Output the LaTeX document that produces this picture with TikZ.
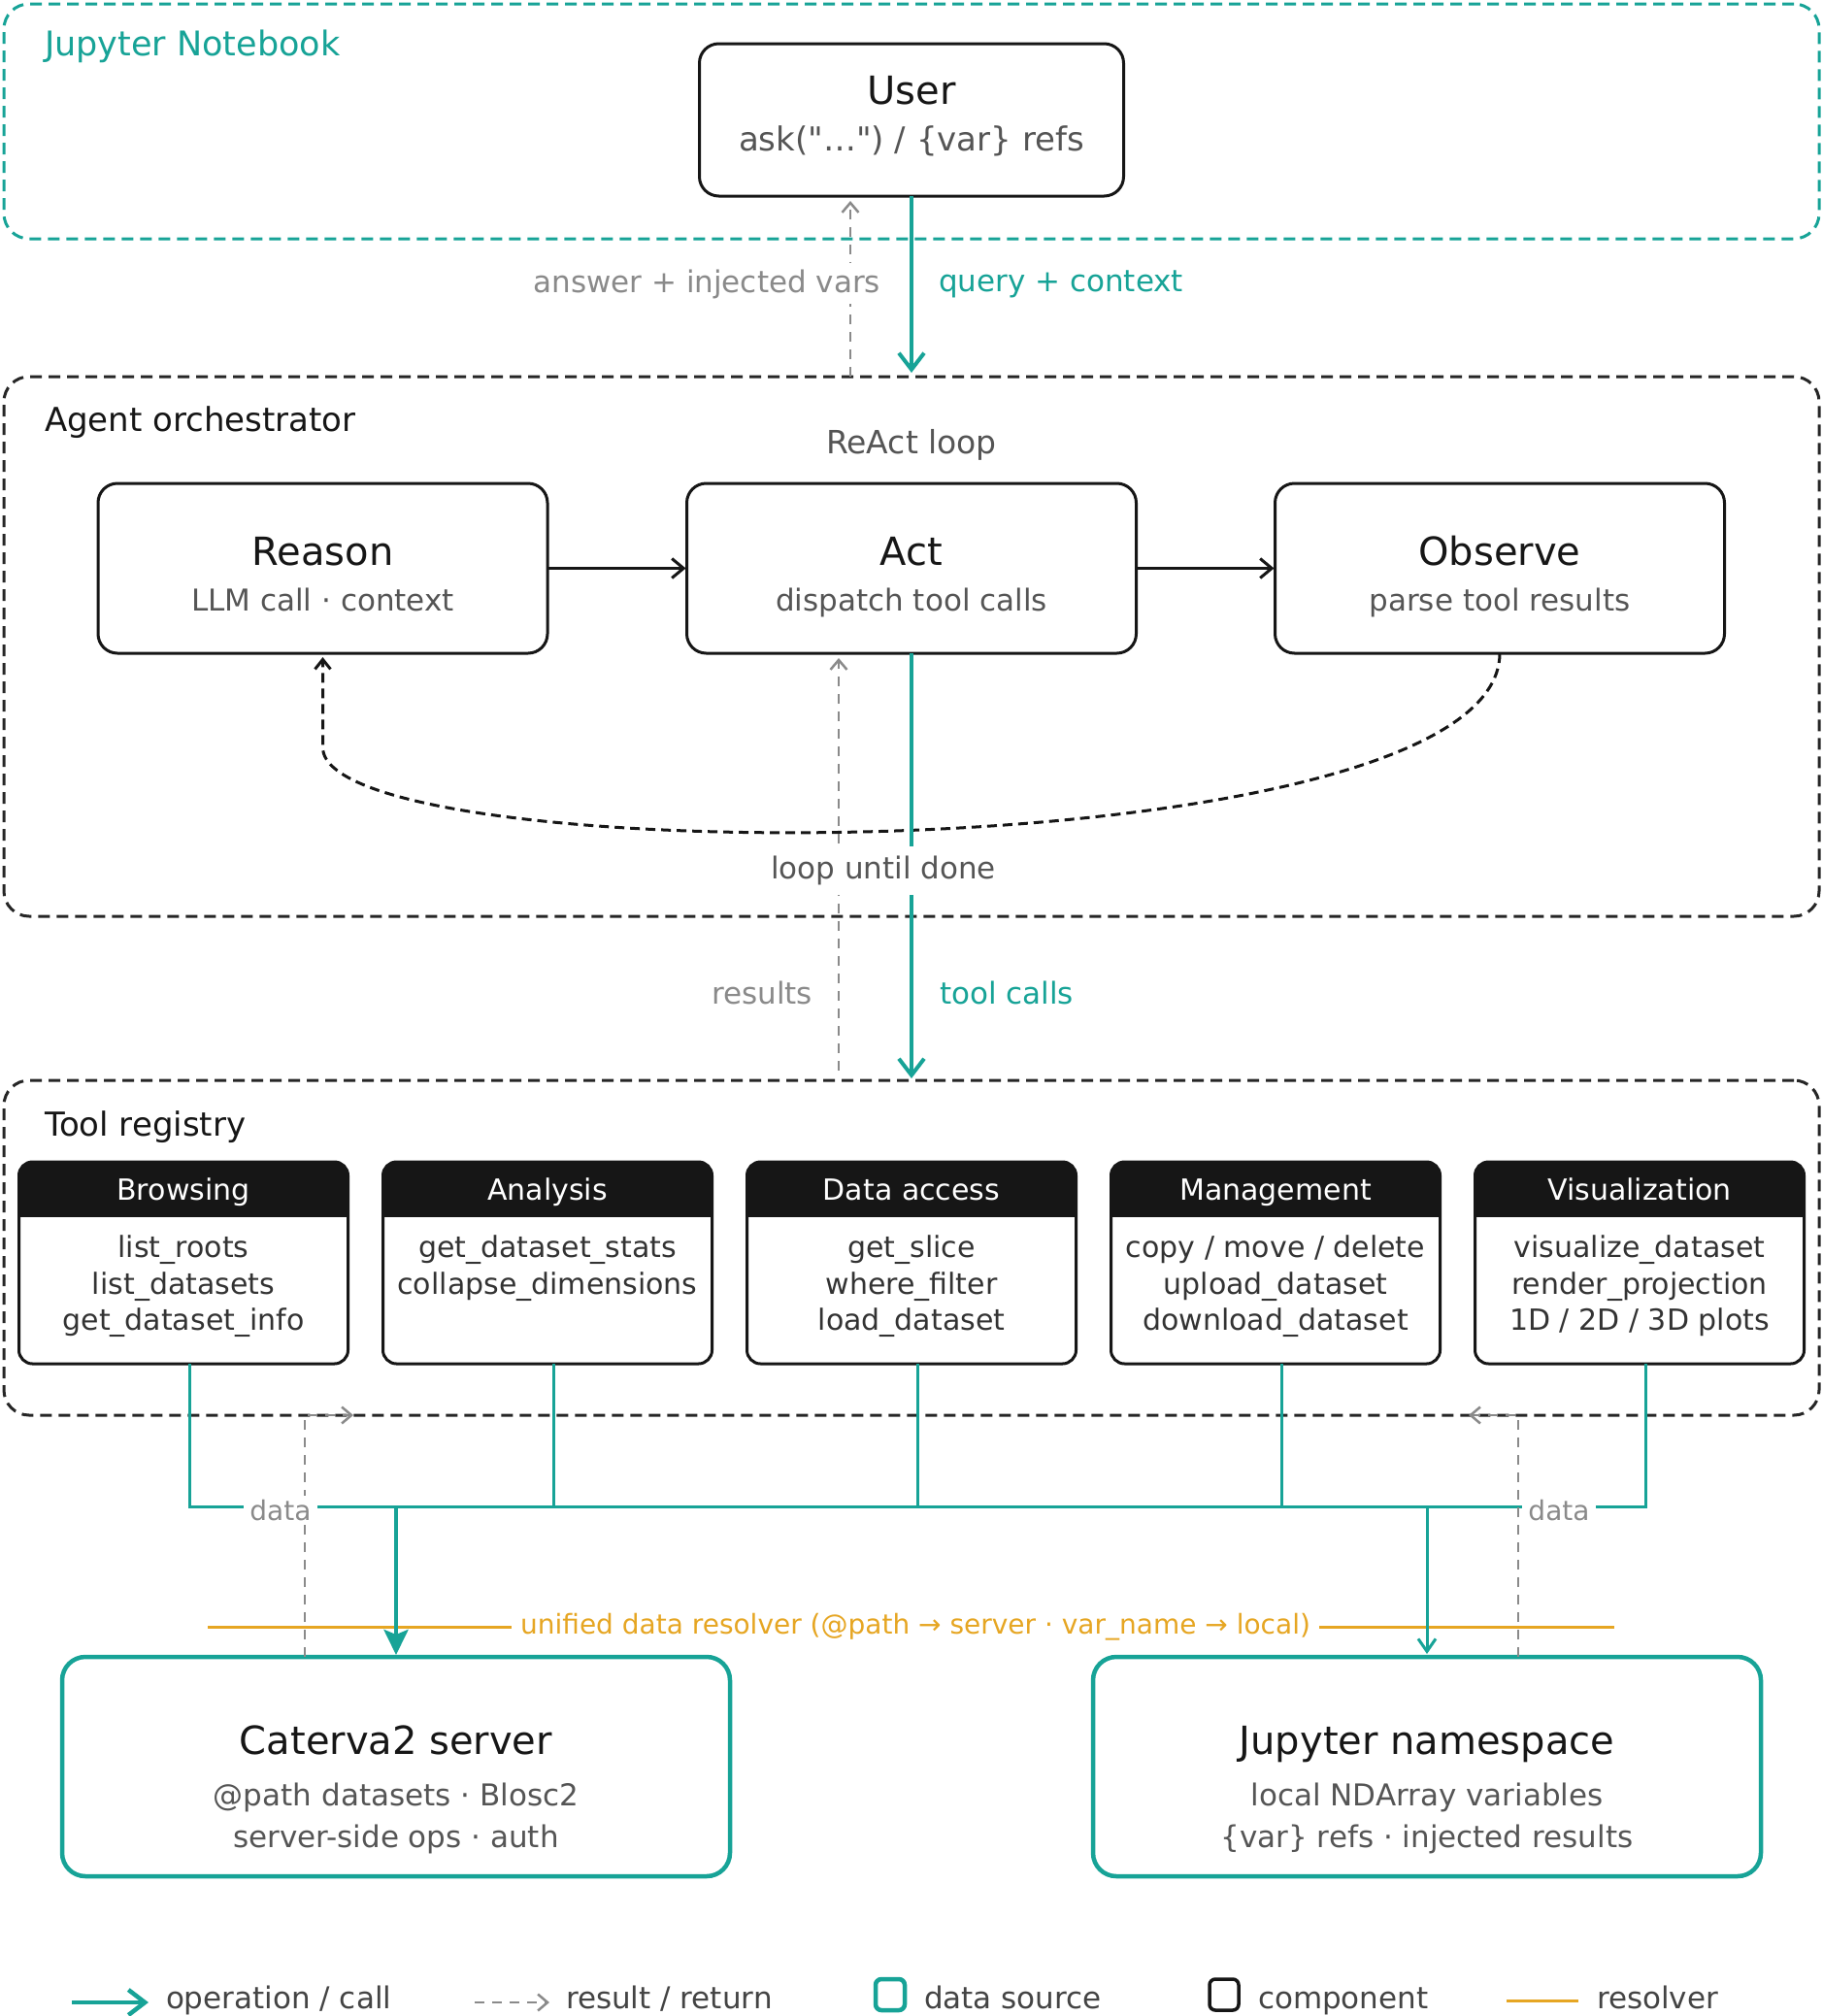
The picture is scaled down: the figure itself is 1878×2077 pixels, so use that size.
\documentclass[tikz,border=0pt]{standalone}
\usepackage{fontspec}
\setmainfont{DejaVu Sans}
\usetikzlibrary{arrows.meta}
\definecolor{teal1}{HTML}{17A397}
\definecolor{orng}{HTML}{E6A623}
\definecolor{ink}{HTML}{161616}
\definecolor{sub}{HTML}{555555}
\definecolor{muted}{HTML}{8A8A8A}
\definecolor{item}{HTML}{333333}
\definecolor{grp}{HTML}{262626}
\definecolor{legc}{HTML}{444444}
\newcommand\fsz[1]{\fontsize{#1pt}{#1pt}\selectfont}
\newcommand\sqt{\XeTeXglyph\XeTeXcharglyph"22\relax}
\newcommand\catbox[3]{%
  \node[catb] (#1) at (#2,1301) {};
  \begin{scope}
    \clip[rounded corners=14pt] (#1.north west) rectangle (#1.south east);
    \fill[ink] ({#2-175},1190) rectangle ({#2+175},1254);
  \end{scope}
  \draw[ink, line width=3pt, rounded corners=14pt] (#1.north west) rectangle (#1.south east);
  \node[hdr] (#1-h) at (#2,1236) {#3};
}
\begin{document}
\begin{tikzpicture}[x=1pt,y=-1pt,
  every node/.style={inner sep=0pt,outer sep=0pt},
  grpbox/.style={draw=#1, line width=3pt, dash pattern=on 12pt off 7pt, rounded corners=26pt, minimum width=1870pt},
  comp/.style={draw=ink, line width=3pt, rounded corners=20pt, fill=white},
  srcbox/.style={draw=teal1, line width=4.5pt, rounded corners=24pt, fill=white, minimum width=688pt, minimum height=226pt},
  ttl/.style={anchor=base, font=\fsz{40}, text=ink},
  subt/.style={anchor=base, font=\fsz{31}, text=sub},
  glbl/.style={anchor=base west, font=\fsz{34}},
  call/.style={draw=teal1, line width=4pt, -{Straight Barb[length=17pt,width=26pt]}},
  thincall/.style={draw=teal1, line width=3pt, -{Straight Barb[length=13pt,width=18pt]}},
  bigcall/.style={draw=teal1, line width=4.5pt, -{Stealth[length=26pt,width=25pt,inset=5pt]}},
  ret/.style={draw=muted, line width=2.5pt, dash pattern=on 10pt off 8pt, -{Straight Barb[length=10pt,width=17pt]}},
  flow/.style={draw=ink, line width=3pt, -{Straight Barb[length=12pt,width=20pt]}},
  loopdash/.style={draw=ink, line width=3pt, dash pattern=on 10pt off 6pt, -{Straight Barb[length=10pt,width=16pt]}},
  bus/.style={draw=teal1, line width=3pt},
  resline/.style={draw=orng, line width=3pt},
  catb/.style={fill=white, minimum width=339pt, minimum height=208pt},
  hdr/.style={anchor=base, font=\fsz{30}, text=white},
  itm/.style={anchor=base, font=\fsz{30}, text=item},
  datalbl/.style={fill=white, text=muted, font=\fsz{28}, inner xsep=6pt, inner ysep=4pt},
  legtxt/.style={anchor=base west, font=\fsz{31}, text=legc}
]
\useasboundingbox (0,0) rectangle (1878,2077);
\fill[white] (0,0) rectangle (1878,2077);

% ---------- groups ----------
\node[grpbox=teal1, minimum height=242pt] (jup) at (939,125) {};
\node[glbl, text=teal1, font=\fsz{35}] (juplbl) at (46,57) {Jupyter Notebook};
\node[grpbox=grp, minimum height=556pt] (agent) at (939,666) {};
\node[glbl, text=ink] (agentlbl) at (46,444) {Agent orchestrator};
\node[grpbox=grp, minimum height=345pt] (toolreg) at (939,1285.5) {};
\node[glbl, text=ink] (toollbl) at (46,1170) {Tool registry};

% ---------- user ----------
\node[comp, minimum width=437pt, minimum height=157pt] (user) at (939,123.5) {};
\node[ttl] (user-t) at (939,107) {User};
\node[anchor=base, font=\fsz{34}, text=sub] (user-s) at (939,155) {ask(\sqt…\sqt) / \{var\} refs};

\coordinate (ansX) at (876,0);
\draw[call, shorten >=4pt] (user.south) -- (agent.north);
\draw[ret, shorten >=5pt] (agent.north -| ansX) -- (user.south -| ansX);
\node[anchor=base east, font=\fsz{31}, text=muted, fill=white, inner xsep=2pt, inner ysep=6pt] (anslbl) at (909,301) {answer + injected vars};
\node[anchor=base west, font=\fsz{31}, text=teal1] (qlbl) at (967,300) {query + context};

% ---------- ReAct ----------
\node[anchor=base, font=\fsz{33}, text=sub] (react) at (939,467) {ReAct loop};
\node[comp, minimum width=463pt, minimum height=175pt] (reason) at (332.5,585.5) {};
\node[ttl] at (332.5,582) {Reason};
\node[subt] at (332.5,629) {LLM call · context};
\node[comp, minimum width=463pt, minimum height=175pt] (act) at (939,585.5) {};
\node[ttl] at (939,582) {Act};
\node[subt] at (939,629) {dispatch tool calls};
\node[comp, minimum width=463pt, minimum height=175pt] (observe) at (1545,585.5) {};
\node[ttl] at (1545,582) {Observe};
\node[subt] at (1545,629) {parse tool results};

\draw[flow, shorten >=1pt] (reason.east) -- (act.west);
\draw[flow, shorten >=1pt] (act.east) -- (observe.west);
\draw[loopdash, shorten >=4pt] (observe.south) .. controls (1545,900) and (332.5,900) .. (332.5,770) -- (reason.south);

\coordinate (resX) at (864,0);
\draw[ret, shorten <=10pt, shorten >=5pt] (toolreg.north -| resX) -- (act.south -| resX);
\draw[call, shorten >=2pt] (act.south) -- (toolreg.north);
\node[fill=white, font=\fsz{31}, text=sub, inner xsep=4pt, inner ysep=10pt] (loop) at (910,897) {loop until done};
\node[anchor=base east, font=\fsz{31}, text=muted] (reslbl) at (837,1034) {results};
\node[anchor=base west, font=\fsz{31}, text=teal1] (tclbl) at (968,1034) {tool calls};

% ---------- tool categories ----------
\catbox{browsing}{189}{Browsing}
\node[itm] at (189,1295) {list\_roots};
\node[itm] at (189,1333) {list\_datasets};
\node[itm] at (189,1370) {get\_dataset\_info};
\catbox{analysis}{564}{Analysis}
\node[itm] at (564,1295) {get\_dataset\_stats};
\node[itm] at (564,1333) {collapse\_dimensions};
\catbox{dataacc}{939}{Data access}
\node[itm] at (939,1295) {get\_slice};
\node[itm] at (939,1333) {where\_filter};
\node[itm] at (939,1370) {load\_dataset};
\catbox{mgmt}{1314}{Management}
\node[itm] at (1314,1295) {copy / move / delete};
\node[itm] at (1314,1333) {upload\_dataset};
\node[itm] at (1314,1370) {download\_dataset};
\catbox{visual}{1689}{Visualization}
\node[itm] at (1689,1295) {visualize\_dataset};
\node[itm] at (1689,1333) {render\_projection};
\node[itm] at (1689,1370) {1D / 2D / 3D plots};

% ---------- data sources ----------
\node[srcbox] (caterva) at (408,1820) {};
\node[ttl] at (408,1807) {Caterva2 server};
\node[subt] at (408,1860) {@path datasets · Blosc2};
\node[subt] at (408,1903) {server-side ops · auth};
\node[srcbox] (nspace) at (1470,1820) {};
\node[ttl] at (1470,1807) {Jupyter namespace};
\node[subt] at (1470,1860) {local NDArray variables};
\node[subt] at (1470,1903) {\{var\} refs · injected results};

% resolver line
\coordinate (oL) at (214,1676);
\coordinate (oR) at (1663,1676);
\draw[resline] (oL) -- (oR);
\node[fill=white, font=\fsz{28}, text=orng, inner xsep=9pt, inner ysep=3pt] (resolver) at (943,1676) {unified data resolver (@path → server · var\_name → local)};

% bus
\coordinate (b1) at (195,1552);
\coordinate (b2) at (570,1552);
\coordinate (b3) at (945,1552);
\coordinate (b4) at (1320,1552);
\coordinate (b5) at (1695,1552);
\coordinate (bC) at (408,1552);
\coordinate (bN) at (1470,1552);
\draw[bus] ([xshift=6pt]browsing.south) -- (b1) -- (b5) -- ([xshift=6pt]visual.south);
\draw[bus] ([xshift=6pt]analysis.south) -- (b2);
\draw[bus] ([xshift=6pt]dataacc.south) -- (b3);
\draw[bus] ([xshift=6pt]mgmt.south) -- (b4);
\draw[bigcall, shorten >=2pt] (bC) -- (caterva.north);
\draw[thincall, shorten >=3pt] (bN) -- (nspace.north);

% returns
\coordinate (rL) at (314,1458);
\coordinate (rLt) at (364,1458);
\coordinate (rR) at (1564,1458);
\coordinate (rRt) at (1513,1458);
\draw[ret] (caterva.north -| rL) -- (rL) -- (rLt);
\draw[ret] (nspace.north -| rR) -- (rR) -- (rRt);
\node[datalbl] (dataL) at (289,1556) {data};
\node[datalbl] (dataR) at (1606,1556) {data};

% ---------- legend ----------
\coordinate (lg1a) at (74,2063);
\coordinate (lg1b) at (153,2063);
\draw[call, line width=4.5pt] (lg1a) -- (lg1b);
\node[legtxt] (lgt1) at (171,2069) {operation / call};
\coordinate (lg2a) at (489,2063);
\coordinate (lg2b) at (566,2063);
\draw[ret] (lg2a) -- (lg2b);
\node[legtxt] (lgt2) at (583,2069) {result / return};
\node[draw=teal1, line width=4.5pt, rounded corners=6pt, minimum width=30pt, minimum height=32pt] (lgsrc) at (917,2055) {};
\node[legtxt] (lgt3) at (952,2069) {data source};
\node[draw=ink, line width=3.5pt, rounded corners=6pt, minimum width=30pt, minimum height=32pt] (lgcomp) at (1261,2055) {};
\node[legtxt] (lgt4) at (1296,2069) {component};
\coordinate (lg5a) at (1552,2061);
\coordinate (lg5b) at (1626,2061);
\draw[resline] (lg5a) -- (lg5b);
\node[legtxt] (lgt5) at (1645,2069) {resolver};
\end{tikzpicture}
\end{document}
